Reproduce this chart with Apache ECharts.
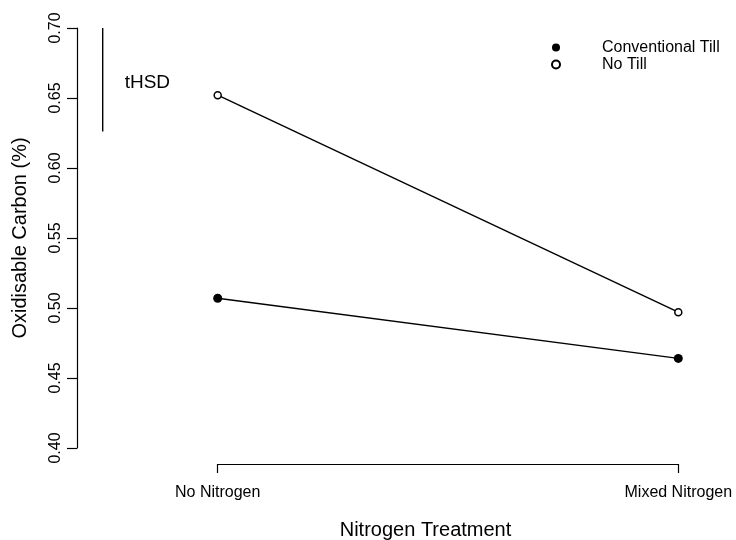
<!DOCTYPE html>
<html>
<head>
<meta charset="utf-8">
<script src="https://cdn.jsdelivr.net/npm/echarts@6/dist/echarts.min.js"></script>
<style>
  html, body { margin: 0; padding: 0; background: #fff; }
  #chart { width: 736px; height: 540px; }
</style>
</head>
<body>
<div id="chart"></div>
<script>
// Treatment levels on the x axis
const treatments = ['No Nitrogen', 'Mixed Nitrogen'];
// Mean oxidisable carbon (%) per tillage system
const conventionalTill = [0.507, 0.464];
const noTill = [0.652, 0.497];
// Tukey HSD bar, hanging down from the top of the axis
const hsdTop = 0.70;
const tukeyHSD = 0.074;
// Y axis ticks
const yTicks = [0.40, 0.45, 0.50, 0.55, 0.60, 0.65, 0.70];

const FONT = 'Liberation Sans, Arial, Helvetica, sans-serif';

const chart = echarts.init(document.getElementById('chart'), null, { renderer: 'canvas' });

chart.setOption({
  animation: false,
  backgroundColor: '#ffffff',
  textStyle: { fontFamily: FONT, color: '#000' },
  grid: {
    left: 217.7, right: 57.7, top: 28, bottom: 92,
    containLabel: false,
    outerBoundsMode: 'none'
  },
  legend: {
    data: ['Conventional Till', 'No Till'],
    orient: 'vertical',
    left: 514,
    top: 39,
    padding: 0,
    itemWidth: 82,
    itemHeight: 10,
    itemGap: 0,
    selectedMode: false,
    lineStyle: { opacity: 0 },
    textStyle: { fontFamily: FONT, fontSize: 16, color: '#000', lineHeight: 17 }
  },
  xAxis: {
    type: 'category',
    data: treatments,
    boundaryGap: false,
    offset: 16,
    axisLine: { show: true, lineStyle: { color: '#000', width: 1.2 } },
    axisTick: { show: true, length: 9, lineStyle: { color: '#000', width: 1.2 } },
    axisLabel: { fontFamily: FONT, fontSize: 16, color: '#000', margin: 21 },
    splitLine: { show: false },
    name: 'Nitrogen Treatment',
    nameLocation: 'middle',
    nameGap: 56,
    nameTextStyle: { fontFamily: FONT, fontSize: 20, color: '#000', padding: [0, 45, 0, 0] }
  },
  yAxis: {
    type: 'value',
    min: yTicks[0],
    max: yTicks[yTicks.length - 1],
    interval: 0.05,
    offset: 140.7,
    axisLine: { show: true, lineStyle: { color: '#000', width: 1.2 } },
    axisTick: { show: true, length: 10, lineStyle: { color: '#000', width: 1.2 } },
    axisLabel: {
      fontFamily: FONT, fontSize: 16, color: '#000', rotate: 90, margin: 13,
      formatter: v => v.toFixed(2)
    },
    splitLine: { show: false },
    name: 'Oxidisable Carbon (%)',
    nameLocation: 'middle',
    nameGap: 47,
    nameTextStyle: { fontFamily: FONT, fontSize: 20, color: '#000' }
  },
  series: [
    {
      name: 'Conventional Till',
      type: 'line',
      data: conventionalTill,
      symbol: 'circle',
      symbolSize: 9,
      itemStyle: { color: '#000' },
      lineStyle: { color: '#000', width: 1.4 },
      emphasis: { disabled: true },
      silent: true
    },
    {
      name: 'No Till',
      type: 'line',
      data: noTill,
      symbol: 'circle',
      symbolSize: 7,
      itemStyle: { color: '#fff', borderColor: '#000', borderWidth: 1.5 },
      lineStyle: { color: '#000', width: 1.4 },
      emphasis: { disabled: true },
      silent: true
    },
    {
      name: 'tHSD',
      type: 'custom',
      silent: true,
      clip: false,
      data: [[0, hsdTop, hsdTop - tukeyHSD]],
      renderItem: function (params, api) {
        const top = api.coord([api.value(0), api.value(1)]);
        const bottom = api.coord([api.value(0), api.value(2)]);
        const x = top[0] - 115;
        return {
          type: 'group',
          children: [
            {
              type: 'line',
              shape: { x1: x, y1: top[1], x2: x, y2: bottom[1] },
              style: { stroke: '#000', lineWidth: 1.4 }
            },
            {
              type: 'text',
              x: x + 22,
              y: (top[1] + bottom[1]) / 2 + 3,
              style: {
                text: 'tHSD',
                font: '19px ' + FONT,
                fill: '#000',
                textAlign: 'left',
                textVerticalAlign: 'middle'
              }
            }
          ]
        };
      }
    }
  ]
});
</script>
</body>
</html>
